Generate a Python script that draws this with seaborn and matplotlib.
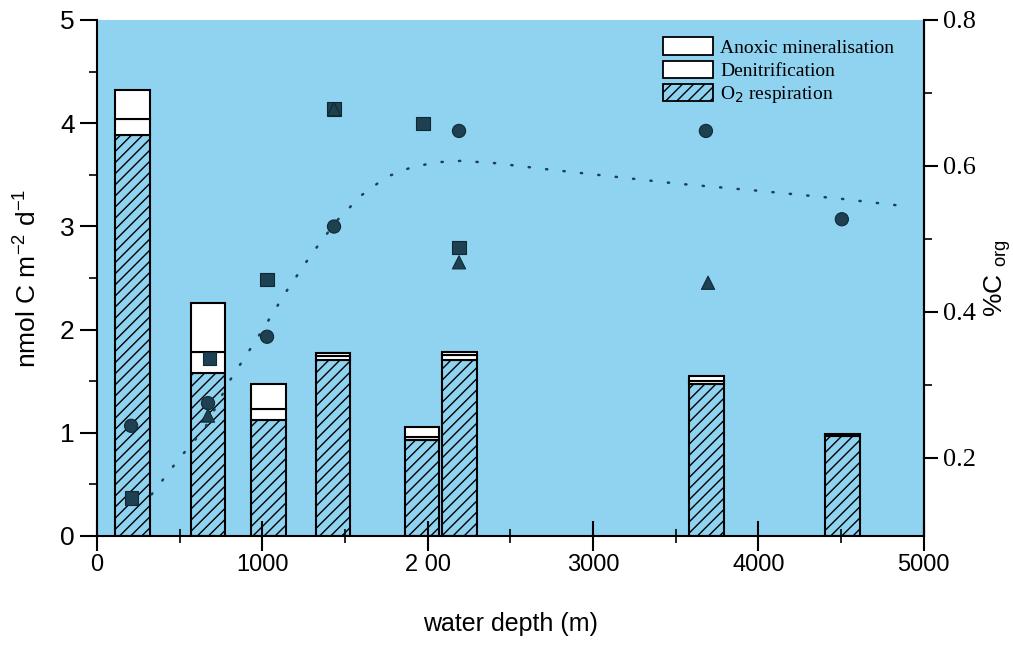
import numpy as np
import pandas as pd
import matplotlib
matplotlib.use("Agg")
import matplotlib.pyplot as plt
from matplotlib.ticker import MultipleLocator, FixedLocator
from matplotlib.patches import Patch
import seaborn as sns

sns.set_style("ticks")
plt.rcParams.update({"text.color": "black", "axes.labelcolor": "black",
                     "xtick.color": "black", "ytick.color": "black",
                     "axes.edgecolor": "black"})

# bar data (nmol C m-2 d-1), stacked: O2 respiration / denitrification / anoxic
depth = [215, 671, 1037, 1427, 1965, 2192, 3685, 4507]
o2_resp = [3.89, 1.58, 1.12, 1.71, 0.93, 1.71, 1.47, 0.97]
denit = [0.15, 0.20, 0.11, 0.03, 0.03, 0.04, 0.03, 0.01]
anoxic = [0.28, 0.48, 0.24, 0.03, 0.10, 0.03, 0.05, 0.01]

# %Corg points
circ_x = [206, 671, 1028, 1433, 2189, 3682, 4504]
circ_y = [0.244, 0.275, 0.366, 0.517, 0.648, 0.648, 0.527]
sq_x = [206, 680, 1028, 1433, 1971, 2189]
sq_y = [0.145, 0.336, 0.445, 0.678, 0.658, 0.488]
tri_x = [671, 1433, 2189, 3695]
tri_y = [0.258, 0.678, 0.468, 0.440]

# dotted trend curve
fit_x = [330, 500, 650, 800, 1000, 1150, 1300, 1450, 1600, 1750, 1900,
         2050, 2200, 2400, 2700, 3100, 3500, 4000, 4500, 4880]
fit_y = [0.15, 0.20, 0.24, 0.305, 0.375, 0.43, 0.48, 0.525, 0.56, 0.585,
         0.598, 0.605, 0.607, 0.604, 0.596, 0.586, 0.576, 0.566, 0.555, 0.545]

xtick_vals = [0, 1000, 2000, 3000, 4000, 5000]
xtick_labels = ["0", "1000", "2 00", "3000", "4000", "5000"]

blue = "#8fd3f0"
mark_col = "#1e4050"

fig = plt.figure(figsize=(10.13, 6.45), dpi=100)
ax = fig.add_axes([0.0958, 0.169, 0.8162, 0.800])
ax.set_facecolor(blue)

o2 = np.array(o2_resp)
dn = np.array(denit)
an = np.array(anoxic)
w = 208
ax.bar(depth, o2, width=w, facecolor="none", edgecolor="black", hatch="///", lw=1.5, zorder=2)
ax.bar(depth, dn, bottom=o2, width=w, facecolor="white", edgecolor="black", lw=1.5, zorder=2)
ax.bar(depth, an, bottom=o2 + dn, width=w, facecolor="white", edgecolor="black", lw=1.5, zorder=2)

ax.set_xlim(0, 5000)
ax.set_ylim(0, 5)
ax.xaxis.set_major_locator(FixedLocator(xtick_vals))
ax.set_xticklabels(xtick_labels)
ax.xaxis.set_minor_locator(MultipleLocator(500))
ax.yaxis.set_major_locator(MultipleLocator(1))
ax.yaxis.set_minor_locator(MultipleLocator(0.5))
ax.tick_params(axis="x", which="major", direction="inout", length=22, width=1.5, labelsize=17, pad=2)
ax.tick_params(axis="x", which="minor", direction="inout", length=10, width=1.2)
ax.tick_params(axis="y", which="major", direction="out", length=12, width=1.5, labelsize=19, pad=4)
ax.tick_params(axis="y", which="minor", direction="out", length=6, width=1.2)
for lab in ax.get_xticklabels() + ax.get_yticklabels():
    lab.set_fontfamily("Liberation Sans")
ax.set_xlabel("water depth (m)", fontsize=18, family="Liberation Sans", labelpad=26)
ax.set_ylabel(r"nmol C m$^{\mathregular{-2}}$ d$^{\mathregular{-1}}$", fontsize=19,
              family="Liberation Sans", labelpad=14)
for s in ["left", "bottom", "right"]:
    ax.spines[s].set_linewidth(1.5)
ax.spines["top"].set_visible(False)

handles = [Patch(facecolor="white", edgecolor="black", lw=1.3, label="Anoxic mineralisation"),
           Patch(facecolor="white", edgecolor="black", lw=1.3, label="Denitrification"),
           Patch(facecolor="none", edgecolor="black", lw=1.3, hatch="///", label=r"O$_2$ respiration")]
ax.legend(handles=handles, loc="upper right", bbox_to_anchor=(0.985, 1.0), frameon=False,
          prop={"family": "Liberation Serif", "size": 14}, handlelength=2.6, handleheight=1.0,
          labelspacing=0.2, handletextpad=0.35)

ax2 = ax.twinx()
ax2.patch.set_visible(False)
pts = pd.concat([
    pd.DataFrame({"depth": circ_x, "corg": circ_y, "kind": "circle"}),
    pd.DataFrame({"depth": sq_x, "corg": sq_y, "kind": "square"}),
    pd.DataFrame({"depth": tri_x, "corg": tri_y, "kind": "triangle"}),
])
sns.lineplot(x=fit_x, y=fit_y, ax=ax2, color=mark_col, lw=1.8, linestyle=(0, (0.5, 6.5)),
             dash_capstyle="round")
sns.scatterplot(data=pts, x="depth", y="corg", style="kind", ax=ax2, color=mark_col,
                markers={"circle": "o", "square": "s", "triangle": "^"}, s=90,
                edgecolor="#0f2a36", linewidth=0.8, legend=False, zorder=4)
ax2.set_xlim(0, 5000)
ax2.set_ylim(0.093, 0.8)
ax2.yaxis.set_major_locator(FixedLocator([0.2, 0.4, 0.6, 0.8]))
ax2.yaxis.set_minor_locator(FixedLocator([0.3, 0.5, 0.7]))
ax2.tick_params(axis="y", which="major", direction="out", length=10, width=1.5, labelsize=19, pad=4)
ax2.tick_params(axis="y", which="minor", direction="out", length=6, width=1.2)
for lab in ax2.get_yticklabels():
    lab.set_fontfamily("Liberation Serif")
ax2.set_ylabel(r"%C $_{\mathregular{org}}$", fontsize=19, family="Liberation Sans", labelpad=4)
ax2.set_xlabel("")
for s in ax2.spines.values():
    s.set_visible(False)
ax2.spines["right"].set_visible(True)
ax2.spines["right"].set_linewidth(1.5)

fig.savefig("out.png", dpi=100)
